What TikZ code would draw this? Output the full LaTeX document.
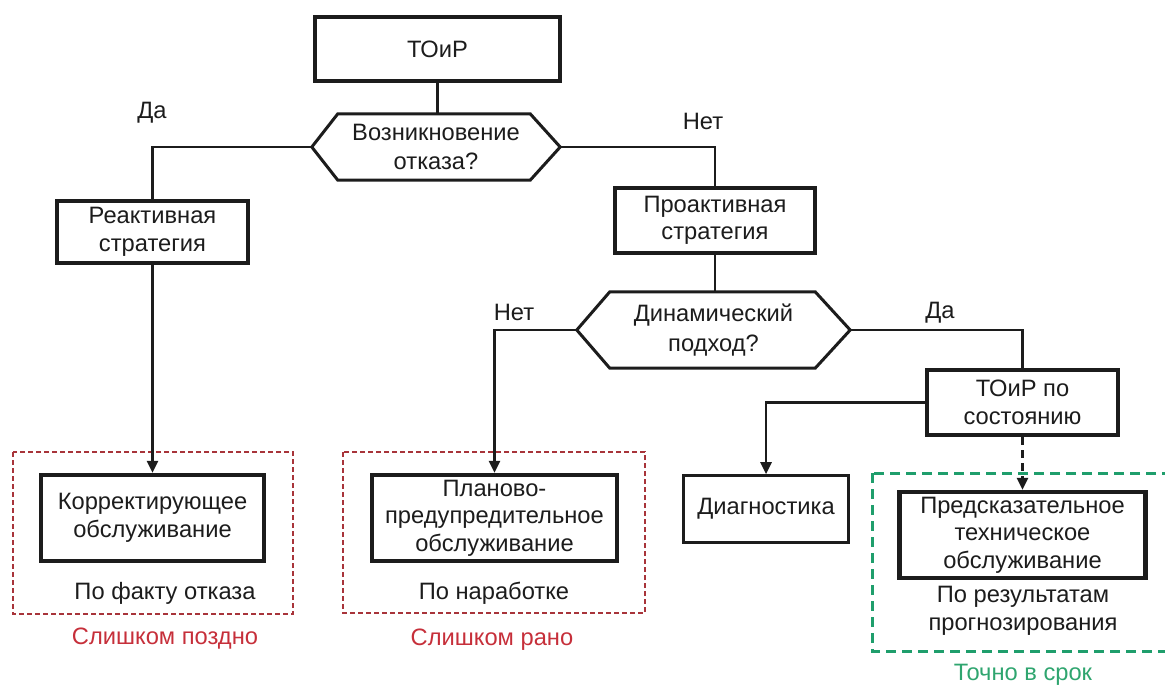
\documentclass[tikz,border=0pt]{standalone}
\usepackage{fontspec}
\setmainfont{Liberation Sans}
\usetikzlibrary{arrows.meta,calc}
\definecolor{ink}{HTML}{1C1C1C}
\definecolor{latered}{HTML}{A8343A}
\definecolor{latetext}{HTML}{C62F3A}
\definecolor{okgreen}{HTML}{1F9E6C}
\definecolor{oktext}{HTML}{2FA56F}
\begin{document}
\begin{tikzpicture}[x=1pt,y=-1pt,
  font=\fontsize{23.7}{27.5}\selectfont,
  every node/.style={text=ink, align=center, inner sep=0pt},
  boldbox/.style={draw=ink, line width=4.5pt},
  plainbox/.style={draw=ink, line width=2.6pt},
  hexnode/.style={draw=none},
  hexline/.style={draw=ink, line width=3pt, line join=miter},
  conn/.style={draw=ink, line width=2.6pt},
  arr/.style={conn, -{Triangle[length=12pt,width=11pt]}},
  lbl/.style={text=ink},
  redframe/.style={draw=latered, line width=1.3pt, dash pattern=on 5pt off 3pt},
  greenframe/.style={draw=okgreen, line width=3pt, dash pattern=on 10pt off 6pt}]
\useasboundingbox (0,0) rectangle (1165,686);

% dashed group frames
\draw[redframe] (13,452) rectangle (293,614);
\draw[redframe] (343,452) rectangle (645,613);
\draw[greenframe] (872,473) rectangle (1172,651);

% top box
\node[boldbox, minimum width=245pt, minimum height=64pt] (toir) at (437.5,49) {ТОиР};

% first decision
\node[hexnode, minimum width=248pt, minimum height=66pt] (h1) at (436,147) {Возникновение\\[2pt]отказа?};
\draw[hexline] (h1.west) -- ($(h1.north west)+(26,0)$) -- ($(h1.north east)+(-30,0)$)
  -- (h1.east) -- ($(h1.south east)+(-30,0)$) -- ($(h1.south west)+(26,0)$) -- cycle;

% strategies
\node[boldbox, minimum width=191pt, minimum height=62pt] (react) at (152.5,232) {Реактивная\\стратегия};
\node[boldbox, minimum width=200pt, minimum height=65pt] (proact) at (715,220.5) {Проактивная\\стратегия};

% second decision
\node[hexnode, minimum width=273pt, minimum height=76pt] (h2) at (713.5,330) {Динамический\\[2pt]подход?};
\draw[hexline] (h2.west) -- ($(h2.north west)+(33,0)$) -- ($(h2.north east)+(-35,0)$)
  -- (h2.east) -- ($(h2.south east)+(-35,0)$) -- ($(h2.south west)+(33,0)$) -- cycle;

% maintenance kinds
\node[boldbox, minimum width=223pt, minimum height=86pt] (korr) at (152.5,518) {Корректирующее\\обслуживание};
\node[boldbox, minimum width=245pt, minimum height=86pt] (plan) at (494.5,518) {Планово-\\предупредительное\\обслуживание};
\node[boldbox, minimum width=191pt, minimum height=65pt] (toirst) at (1022.5,402.5) {ТОиР по\\состоянию};
\node[plainbox, minimum width=165pt, minimum height=67pt] (diag) at (766,509) {Диагностика};
\node[boldbox, minimum width=246pt, minimum height=86pt] (pred) at (1022.5,535) {Предсказательное\\техническое\\обслуживание};

% branch labels
\node[lbl] (yes1) at (152,113) {Да};
\node[lbl] (no1) at (703,121) {Нет};
\node[lbl] (no2) at (514,312) {Нет};
\node[lbl] (yes2) at (940,313) {Да};

% group captions
\node[lbl] (fact) at (165,593) {По факту отказа};
\node[lbl] (hours) at (494,593) {По наработке};
\node[lbl] (forecast) at (1023,611) {По результатам\\прогнозирования};
\node[text=latetext] (late) at (165,639) {Слишком поздно};
\node[text=latetext] (early) at (492,640) {Слишком рано};
\node[text=oktext] (ontime) at (1023,675) {Точно в срок};

% connectors
\draw[conn] (toir.south) -- (toir.south |- h1.north);
\draw[conn] (h1.west) -| (react.north);
\draw[conn] (h1.east) -| (proact.north);
\draw[conn] (proact.south) -- (proact.south |- h2.north);
\draw[arr] (react.south) -- (korr.north);
\draw[arr] (h2.west) -| (plan.north);
\draw[conn] (h2.east) -| (toirst.north);
\draw[arr] (toirst.west) -| (diag.north);
\draw[arr, dash pattern=on 8pt off 5pt] (toirst.south) -- (pred.north);
\end{tikzpicture}
\end{document}
